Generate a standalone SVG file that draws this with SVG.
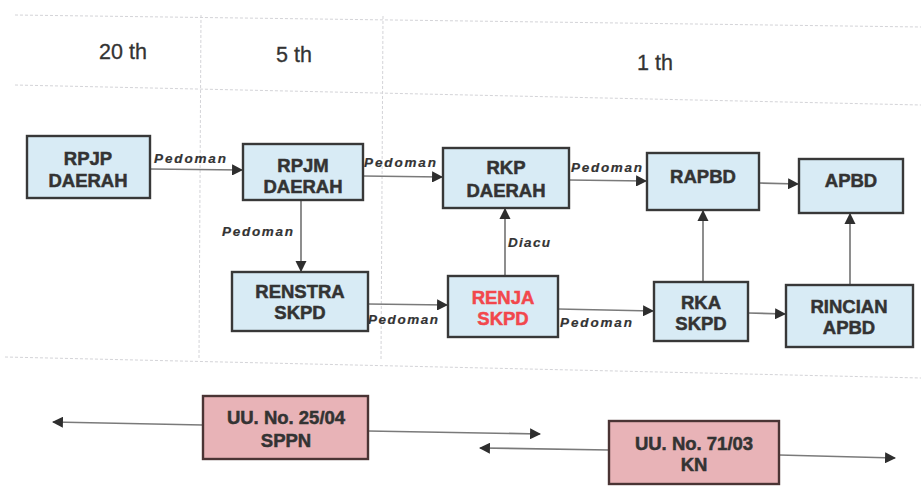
<svg xmlns="http://www.w3.org/2000/svg" width="921" height="486" viewBox="0 0 921 486">
<style>
.grid{stroke:#d4d4d8;stroke-width:1;stroke-dasharray:3 2;fill:none}
.hdr{font-family:"Liberation Sans",Arial,sans-serif;font-size:21.5px;fill:#333;text-anchor:middle;stroke:#333;stroke-width:0.3}
.box rect{fill:#d8ebf5;stroke:#383838;stroke-width:2.4}
.law rect{fill:#e8b3b7;stroke:#4a3434;stroke-width:2.4}
.t{font-family:"Liberation Sans",Arial,sans-serif;font-size:18.5px;font-weight:bold;fill:#333;text-anchor:middle;stroke:#333;stroke-width:0.5}
.red{fill:#f2474c;stroke:#f2474c}
.c{stroke:#7a7a7a;stroke-width:1.7;fill:none}
.lbl{font-family:"Liberation Sans",Arial,sans-serif;font-size:13.5px;font-weight:bold;font-style:italic;fill:#333;stroke:#333;stroke-width:0.2}
</style>
<defs>
<marker id="ah" viewBox="0 0 10 10" refX="9" refY="5" markerWidth="6.5" markerHeight="6.5" orient="auto" markerUnits="strokeWidth">
<path d="M0,0 L10,5 L0,10 z" fill="#2e2e2e"/>
</marker>
</defs>
<rect width="921" height="486" fill="#fff"/>
<g id="grid">
<line class="grid" x1="15" y1="15" x2="921" y2="27"/>
<line class="grid" x1="15" y1="85" x2="921" y2="105"/>
<line class="grid" x1="5" y1="357" x2="921" y2="378"/>
<line class="grid" x1="201" y1="15" x2="199" y2="358"/>
<line class="grid" x1="383" y1="16" x2="381" y2="360"/>
</g>
<g id="headers">
<text class="hdr" x="123" y="59">20 th</text>
<text class="hdr" x="294" y="62">5 th</text>
<text class="hdr" x="655" y="70">1 th</text>
</g>
<g id="connectors">
<line class="c" x1="150" y1="169" x2="242" y2="170" marker-end="url(#ah)"/>
<line class="c" x1="363" y1="176" x2="442" y2="177" marker-end="url(#ah)"/>
<line class="c" x1="569" y1="180" x2="646" y2="181" marker-end="url(#ah)"/>
<line class="c" x1="759" y1="183" x2="798" y2="184" marker-end="url(#ah)"/>
<line class="c" x1="301" y1="200" x2="301" y2="271" marker-end="url(#ah)"/>
<line class="c" x1="368" y1="304" x2="447" y2="305" marker-end="url(#ah)"/>
<line class="c" x1="505" y1="276" x2="505" y2="209" marker-end="url(#ah)"/>
<line class="c" x1="558" y1="309" x2="653" y2="311" marker-end="url(#ah)"/>
<line class="c" x1="703" y1="282" x2="703" y2="211" marker-end="url(#ah)"/>
<line class="c" x1="748" y1="313" x2="785" y2="314" marker-end="url(#ah)"/>
<line class="c" x1="850" y1="285" x2="850" y2="214" marker-end="url(#ah)"/>
<line class="c" x1="203" y1="425" x2="53" y2="422" marker-end="url(#ah)"/>
<line class="c" x1="368" y1="431" x2="540" y2="434" marker-end="url(#ah)"/>
<line class="c" x1="609" y1="450" x2="480" y2="448" marker-end="url(#ah)"/>
<line class="c" x1="779" y1="455" x2="895" y2="458" marker-end="url(#ah)"/>
<text class="lbl" x="154" y="163" textLength="72">Pedoman</text>
<text class="lbl" x="364" y="167" textLength="72">Pedoman</text>
<text class="lbl" x="571" y="172" textLength="71">Pedoman</text>
<text class="lbl" x="222" y="236" textLength="71">Pedoman</text>
<text class="lbl" x="368" y="324" textLength="70">Pedoman</text>
<text class="lbl" x="508" y="247" textLength="42">Diacu</text>
<text class="lbl" x="560" y="327" textLength="72">Pedoman</text>
</g>
<g id="rpjp" class="box"><rect x="27" y="136" width="123" height="62"/><text class="t" x="88" y="165">RPJP</text><text class="t" x="88" y="187">DAERAH</text></g>
<g id="rpjm" class="box"><rect x="243" y="144" width="120" height="56"/><text class="t" x="303" y="172">RPJM</text><text class="t" x="303" y="193">DAERAH</text></g>
<g id="rkp" class="box"><rect x="443" y="148" width="126" height="60"/><text class="t" x="506" y="174">RKP</text><text class="t" x="506" y="197">DAERAH</text></g>
<g id="rapbd" class="box"><rect x="647" y="153" width="112" height="57"/><text class="t" x="703" y="183">RAPBD</text></g>
<g id="apbd" class="box"><rect x="799" y="159" width="104" height="54"/><text class="t" x="851" y="187">APBD</text></g>
<g id="renstra" class="box"><rect x="232" y="272" width="136" height="59"/><text class="t" x="300" y="298">RENSTRA</text><text class="t" x="300" y="319">SKPD</text></g>
<g id="renja" class="box"><rect x="448" y="276" width="110" height="61"/><text class="t red" x="503" y="304">RENJA</text><text class="t red" x="503" y="325">SKPD</text></g>
<g id="rka" class="box"><rect x="654" y="282" width="94" height="59"/><text class="t" x="701" y="309">RKA</text><text class="t" x="701" y="330">SKPD</text></g>
<g id="rincian" class="box"><rect x="786" y="285" width="127" height="62"/><text class="t" x="849" y="313">RINCIAN</text><text class="t" x="849" y="334">APBD</text></g>
<g id="uu2504" class="law"><rect x="203" y="396" width="165" height="63"/><text class="t" x="286" y="424">UU. No. 25/04</text><text class="t" x="286" y="447">SPPN</text></g>
<g id="uu7103" class="law"><rect x="609" y="421" width="170" height="63"/><text class="t" x="694" y="450">UU. No. 71/03</text><text class="t" x="694" y="471">KN</text></g>
</svg>
